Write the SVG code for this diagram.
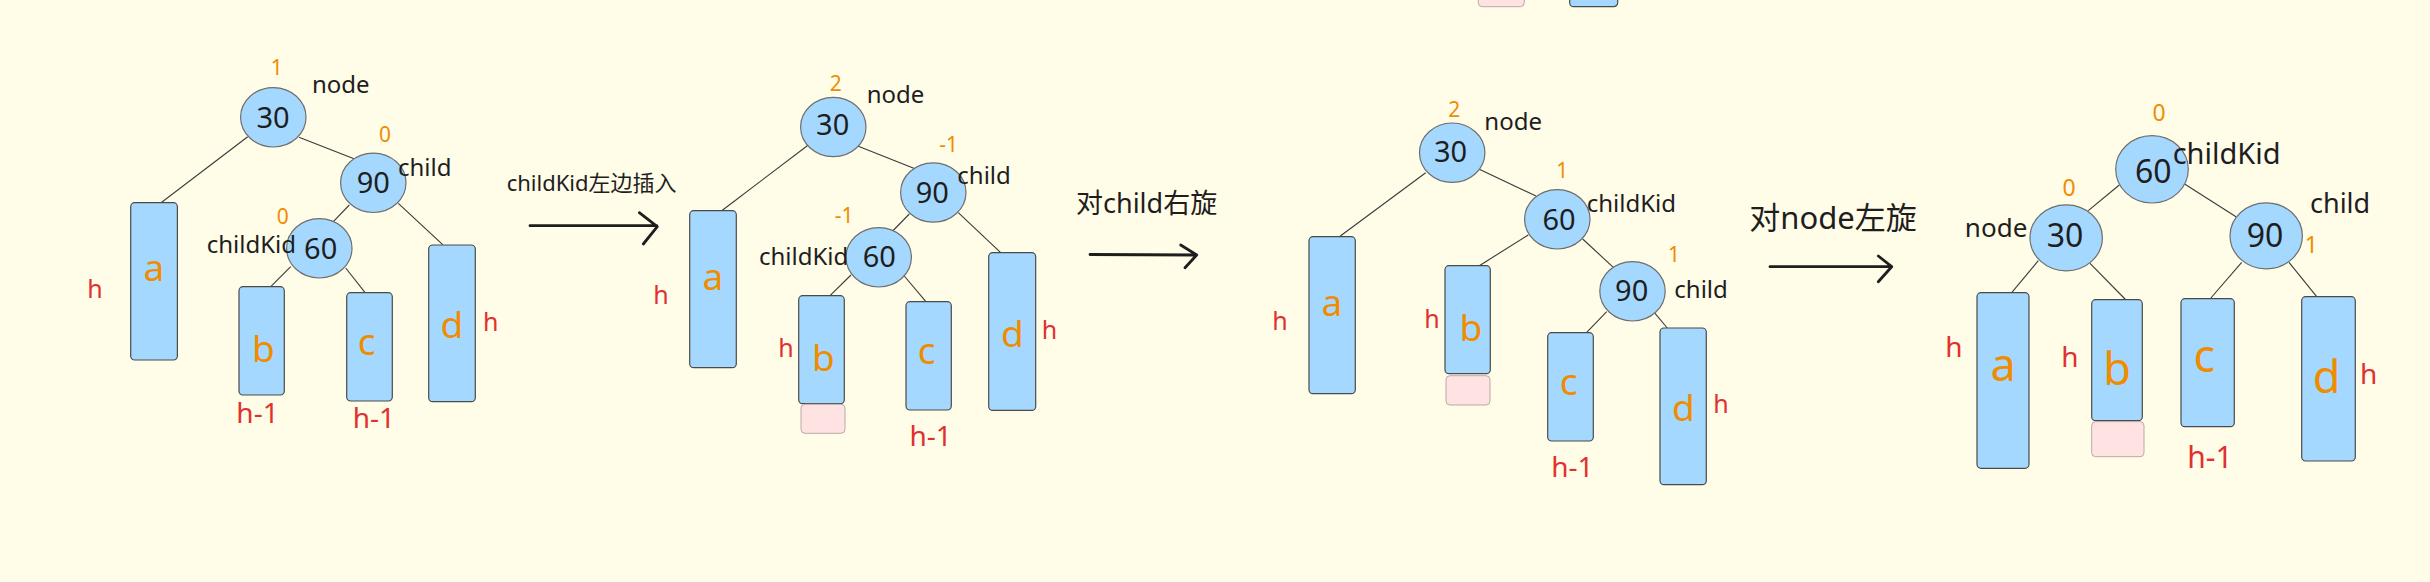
<svg xmlns="http://www.w3.org/2000/svg" width="2430" height="582" viewBox="0 0 2430 582">
<style>
.n{fill:#a5d8ff;stroke:#6e6e6e;stroke-width:1.2}
.r{fill:#a5d8ff;stroke:#4a4a4a;stroke-width:1.2}
.p{fill:#ffe3e3;stroke:#b9a9a7;stroke-width:1}
.e{stroke:#3a3a3a;stroke-width:1.1;fill:none}
.ar{stroke:#1e1e1e;stroke-width:2.8;fill:none;stroke-linecap:round;stroke-linejoin:round}
text{font-family:"Noto Sans","Noto Sans CJK SC",sans-serif}
.v{fill:#1e1e1e;font-size:29px;text-anchor:middle}
.lb{fill:#1e1e1e;font-size:24px}
.bf{fill:#f08c00;font-size:21px;text-anchor:middle}
.L{fill:#f08c00;font-size:37px;text-anchor:middle}
.h{fill:#e03131;font-size:25px;text-anchor:middle}
.hm{fill:#e03131;font-size:28px;text-anchor:middle}
.cn{fill:#1e1e1e}
.big .v{font-size:32px}
.big .bf{font-size:23px}
.big .L{font-size:45px}
.big .h{font-size:28px}
.big .hm{font-size:30px}
</style>
<rect x="0" y="0" width="2430" height="582" fill="#fffce8"/>

<!-- partial shapes at top -->
<g id="top-partial">
<rect class="p" x="1478.3" y="-20" width="46" height="26.7" rx="4"/>
<rect class="r" x="1569.7" y="-20" width="48" height="26.7" rx="4"/>
</g>

<g id="connectors">
<!-- panel 1 -->
<line class="e" x1="247.7" y1="136.7" x2="161.7" y2="202.3"/>
<line class="e" x1="299" y1="137.3" x2="354" y2="158.7"/>
<line class="e" x1="349.3" y1="205" x2="333.3" y2="221.7"/>
<line class="e" x1="398.3" y1="203.3" x2="442.7" y2="244.7"/>
<line class="e" x1="290.7" y1="266.7" x2="270" y2="287.3"/>
<line class="e" x1="345.7" y1="268" x2="365.7" y2="293.3"/>
<!-- panel 2 -->
<line class="e" x1="808.3" y1="145" x2="721.7" y2="210.7"/>
<line class="e" x1="857.7" y1="146" x2="915" y2="168.7"/>
<line class="e" x1="909.3" y1="214" x2="892.7" y2="231"/>
<line class="e" x1="958.3" y1="212.7" x2="1000.7" y2="252.7"/>
<line class="e" x1="851" y1="275" x2="830" y2="295.7"/>
<line class="e" x1="904.3" y1="276" x2="925.7" y2="301.3"/>
<!-- panel 3 -->
<line class="e" x1="1425.7" y1="172.7" x2="1340" y2="236.3"/>
<line class="e" x1="1479.3" y1="169.3" x2="1536" y2="196"/>
<line class="e" x1="1528.3" y1="235" x2="1479.3" y2="265.7"/>
<line class="e" x1="1582.7" y1="239" x2="1613.3" y2="267.3"/>
<line class="e" x1="1606.7" y1="311.7" x2="1586.7" y2="332.3"/>
<line class="e" x1="1655" y1="313.3" x2="1667.3" y2="328"/>
<!-- panel 4 -->
<line class="e" x1="2119.3" y1="185" x2="2088.3" y2="210.7"/>
<line class="e" x1="2185" y1="184.3" x2="2236" y2="216.7"/>
<line class="e" x1="2038.3" y1="260.7" x2="2011.7" y2="292.7"/>
<line class="e" x1="2090" y1="263.3" x2="2126" y2="300"/>
<line class="e" x1="2241.7" y1="262.3" x2="2210" y2="299"/>
<line class="e" x1="2289" y1="262.3" x2="2316.7" y2="296.7"/>
<!-- step arrows -->
<path class="ar" d="M530 225.7 L656.7 225.7 M639.3 212.7 L657.3 226.7 L643.3 244"/>
<path class="ar" d="M1090 254.5 L1196.7 255 M1180.7 245 L1196.7 255 L1185 267.7"/>
<path class="ar" d="M1770 266.7 L1891.7 266.7 M1878.3 256 L1891.7 266.7 L1878.3 281.7"/>
</g>

<g id="step-labels">
<text class="cn" x="506.7" y="190.7" style="font-size:22px">childKid左边插入</text>
<text class="cn" x="1076" y="213.3" style="font-size:27px">对child右旋</text>
<text class="cn" x="1749.3" y="229.3" style="font-size:31px">对node左旋</text>
</g>

<!-- ================= panel 1 ================= -->
<g id="p1">
<g id="p1-node30">
<ellipse class="n" cx="273.3" cy="117.3" rx="32.7" ry="29.7"/>
<text class="v" x="273" y="127.5">30</text>
<text class="bf" x="276.7" y="75">1</text>
<text class="lb" x="312" y="92.7">node</text>
</g>
<g id="p1-node90">
<ellipse class="n" cx="373.3" cy="182.8" rx="32.7" ry="29.7"/>
<text class="v" x="373.3" y="193.3">90</text>
<text class="bf" x="385" y="141.7">0</text>
<text class="lb" x="398" y="176">child</text>
</g>
<g id="p1-node60">
<ellipse class="n" cx="319.3" cy="248.3" rx="32.7" ry="29.7"/>
<text class="v" x="320.7" y="259">60</text>
<text class="bf" x="282.7" y="224.3">0</text>
<text class="lb" x="296" y="253.3" text-anchor="end">childKid</text>
</g>
<g id="p1-a">
<rect class="r" x="130.7" y="202.7" width="46.7" height="157.3" rx="4"/>
<text class="L" x="154" y="280.7">a</text>
<text class="h" x="95" y="297.7">h</text>
</g>
<g id="p1-b">
<rect class="r" x="239" y="286.7" width="45.3" height="108.3" rx="4"/>
<text class="L" x="263.5" y="362.3">b</text>
<text class="hm" x="257.5" y="422.7">h-1</text>
</g>
<g id="p1-c">
<rect class="r" x="346.7" y="292.7" width="45.6" height="108.3" rx="4"/>
<text class="L" x="366.7" y="355">c</text>
<text class="hm" x="373.8" y="428.3">h-1</text>
</g>
<g id="p1-d">
<rect class="r" x="428.7" y="245" width="46.6" height="156.7" rx="4"/>
<text class="L" x="452" y="337.7">d</text>
<text class="h" x="490.7" y="330.7">h</text>
</g>
</g>

<!-- ================= panel 2 ================= -->
<g id="p2">
<g id="p2-node30">
<ellipse class="n" cx="833.3" cy="127" rx="32.7" ry="29.7"/>
<text class="v" x="832.7" y="135">30</text>
<text class="bf" x="835.7" y="90.7">2</text>
<text class="lb" x="866.7" y="103.3">node</text>
</g>
<g id="p2-node90">
<ellipse class="n" cx="933.3" cy="192.5" rx="32.7" ry="29.7"/>
<text class="v" x="932.3" y="202.7">90</text>
<text class="bf" x="948.7" y="151.7">-1</text>
<text class="lb" x="957.3" y="184">child</text>
</g>
<g id="p2-node60">
<ellipse class="n" cx="878.7" cy="257.3" rx="32.7" ry="29.7"/>
<text class="v" x="879.3" y="267.3">60</text>
<text class="bf" x="844.2" y="222.7">-1</text>
<text class="lb" x="848.3" y="265" text-anchor="end">childKid</text>
</g>
<g id="p2-a">
<rect class="r" x="689.7" y="210.7" width="46.6" height="157" rx="4"/>
<text class="L" x="713" y="290">a</text>
<text class="h" x="661" y="304.3">h</text>
</g>
<g id="p2-b">
<rect class="r" x="798.7" y="295.7" width="45.6" height="108" rx="4"/>
<rect class="p" x="801" y="404.3" width="44" height="29" rx="4"/>
<text class="L" x="823.5" y="370.7">b</text>
<text class="h" x="786" y="357.3">h</text>
</g>
<g id="p2-c">
<rect class="r" x="906" y="301.7" width="45.3" height="108.3" rx="4"/>
<text class="L" x="926.7" y="364">c</text>
<text class="hm" x="930.7" y="446">h-1</text>
</g>
<g id="p2-d">
<rect class="r" x="988.7" y="252.7" width="47" height="157.7" rx="4"/>
<text class="L" x="1012.5" y="346.7">d</text>
<text class="h" x="1049.4" y="339.3">h</text>
</g>
</g>

<!-- ================= panel 3 ================= -->
<g id="p3">
<g id="p3-node30">
<ellipse class="n" cx="1452.2" cy="152.7" rx="32.7" ry="29.7"/>
<text class="v" x="1450.5" y="162.3">30</text>
<text class="bf" x="1454.3" y="116.7">2</text>
<text class="lb" x="1484.3" y="130">node</text>
</g>
<g id="p3-node60">
<ellipse class="n" cx="1557.3" cy="219.3" rx="32.7" ry="29.7"/>
<text class="v" x="1559" y="230">60</text>
<text class="bf" x="1562.3" y="178.3">1</text>
<text class="lb" x="1586.7" y="212.3">childKid</text>
</g>
<g id="p3-node90">
<ellipse class="n" cx="1632.5" cy="291.3" rx="32.7" ry="29.7"/>
<text class="v" x="1631.7" y="301">90</text>
<text class="bf" x="1674" y="262.3">1</text>
<text class="lb" x="1674.3" y="298.3">child</text>
</g>
<g id="p3-a">
<rect class="r" x="1309" y="236.7" width="46.3" height="157" rx="4"/>
<text class="L" x="1332" y="316">a</text>
<text class="h" x="1280" y="330">h</text>
</g>
<g id="p3-b">
<rect class="r" x="1445" y="265.7" width="45.3" height="108" rx="4"/>
<rect class="p" x="1446" y="375.7" width="44" height="29.3" rx="4"/>
<text class="L" x="1471" y="341">b</text>
<text class="h" x="1432" y="328.3">h</text>
</g>
<g id="p3-c">
<rect class="r" x="1547.7" y="332.7" width="45.6" height="108.3" rx="4"/>
<text class="L" x="1568.7" y="395">c</text>
<text class="hm" x="1572.3" y="477.3">h-1</text>
</g>
<g id="p3-d">
<rect class="r" x="1660" y="328" width="46.3" height="156.7" rx="4"/>
<text class="L" x="1683.5" y="420.7">d</text>
<text class="h" x="1721" y="413.3">h</text>
</g>
</g>

<!-- ================= panel 4 ================= -->
<g id="p4" class="big">
<g id="p4-node60">
<ellipse class="n" cx="2152" cy="169.3" rx="36.3" ry="33.7"/>
<text class="v" x="2153.3" y="183.3">60</text>
<text class="bf" x="2159" y="120.7">0</text>
<text class="lb" x="2172.7" y="164" style="font-size:29px">childKid</text>
</g>
<g id="p4-node30">
<ellipse class="n" cx="2066.2" cy="237.8" rx="36.2" ry="33"/>
<text class="v" x="2065" y="246.7">30</text>
<text class="bf" x="2069" y="196">0</text>
<text class="lb" x="2027.3" y="237.3" style="font-size:26px" text-anchor="end">node</text>
</g>
<g id="p4-node90">
<ellipse class="n" cx="2266.2" cy="235.8" rx="36.2" ry="33"/>
<text class="v" x="2265" y="246.7">90</text>
<text class="bf" x="2311.3" y="253.3">1</text>
<text class="lb" x="2310" y="213.3" style="font-size:27px">child</text>
</g>
<g id="p4-a">
<rect class="r" x="1977" y="292.7" width="52" height="175.6" rx="4"/>
<text class="L" x="2003" y="381">a</text>
<text class="h" x="1954" y="357.3">h</text>
</g>
<g id="p4-b">
<rect class="r" x="2091.7" y="299.7" width="50.6" height="121" rx="4"/>
<rect class="p" x="2091.7" y="421.7" width="52.3" height="35" rx="4"/>
<text class="L" x="2117" y="385">b</text>
<text class="h" x="2070" y="366.7">h</text>
</g>
<g id="p4-c">
<rect class="r" x="2181" y="298.7" width="53.3" height="128" rx="4"/>
<text class="L" x="2204.3" y="371.7">c</text>
<text class="hm" x="2210" y="468.3">h-1</text>
</g>
<g id="p4-d">
<rect class="r" x="2301.7" y="296.7" width="53.6" height="164.3" rx="4"/>
<text class="L" x="2326.5" y="392.7">d</text>
<text class="h" x="2368.7" y="384">h</text>
</g>
</g>
</svg>
